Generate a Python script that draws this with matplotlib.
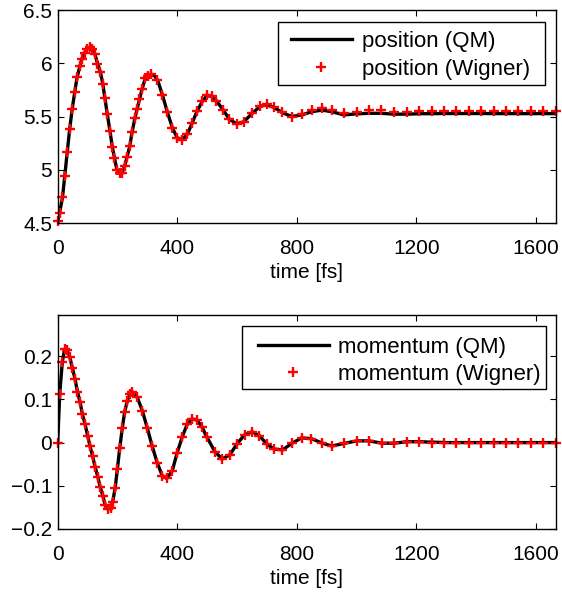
import matplotlib
matplotlib.use("Agg")
import matplotlib.pyplot as plt
from matplotlib.patches import Rectangle

plt.rcParams['font.family'] = ['Liberation Sans', 'DejaVu Sans']

# ---------------- data ----------------
# position, Wigner markers
t_pos_wig = [0, 7.7, 15.5, 24, 32.5, 40, 49, 57, 65, 74, 81, 90, 99, 108, 116,
             124, 133, 143, 151, 158, 166, 175, 183, 190, 198, 207, 215, 224,
             232, 241, 249, 258, 266, 273, 282, 291, 301, 313, 331, 350, 367,
             384, 400, 416, 434, 450, 467, 484, 499, 515, 530, 554, 574, 599,
             622, 651, 677, 700, 724, 752, 783, 817, 850, 884, 917, 958, 1001,
             1042, 1082, 1126, 1168, 1209, 1252, 1293, 1334, 1376, 1417, 1458,
             1500, 1541, 1583, 1625, 1667]
pos_wig = [4.52, 4.59, 4.74, 4.94, 5.17, 5.38, 5.57, 5.73, 5.87, 5.97, 6.04,
           6.10, 6.13, 6.15, 6.13, 6.09, 5.99, 5.915, 5.805, 5.67, 5.52, 5.36,
           5.21, 5.11, 5.00, 4.967, 4.97, 5.035, 5.117, 5.22, 5.354, 5.483,
           5.573, 5.66, 5.755, 5.86, 5.88, 5.90, 5.845, 5.705, 5.54, 5.39,
           5.30, 5.28, 5.34, 5.44, 5.555, 5.643, 5.70, 5.69, 5.65, 5.56, 5.474,
           5.43, 5.45, 5.53, 5.598, 5.615, 5.586, 5.54, 5.495, 5.52, 5.561,
           5.583, 5.561, 5.53, 5.545, 5.561, 5.561, 5.545, 5.545, 5.555, 5.555,
           5.552, 5.555, 5.555, 5.555, 5.555, 5.555, 5.555, 5.555, 5.555, 5.555]

# position, QM line
t_pos_qm = [0, 8, 16, 24, 32, 40, 48, 57, 65, 74, 82, 90, 99, 108, 116, 124,
            133, 143, 151, 158, 166, 175, 183, 190, 198, 207, 215, 224, 232,
            241, 249, 258, 266, 274, 282, 291, 301, 315, 325, 335, 350, 367,
            384, 400, 416, 434, 450, 467, 484, 499, 515, 530, 554, 574, 599,
            622, 651, 677, 700, 724, 752, 783, 817, 850, 884, 917, 958, 1001,
            1042, 1082, 1126, 1168, 1209, 1300, 1400, 1500, 1600, 1667]
pos_qm = [4.52, 4.62, 4.74, 4.95, 5.17, 5.38, 5.56, 5.73, 5.87, 5.97, 6.05,
          6.10, 6.135, 6.145, 6.13, 6.09, 6.00, 5.915, 5.805, 5.67, 5.52, 5.36,
          5.21, 5.11, 5.00, 4.965, 4.97, 5.035, 5.12, 5.22, 5.355, 5.48, 5.575,
          5.665, 5.755, 5.84, 5.875, 5.895, 5.88, 5.835, 5.705, 5.54, 5.39,
          5.30, 5.28, 5.335, 5.44, 5.555, 5.643, 5.695, 5.69, 5.65, 5.56,
          5.475, 5.43, 5.45, 5.53, 5.595, 5.61, 5.585, 5.535, 5.50, 5.515,
          5.545, 5.56, 5.545, 5.515, 5.525, 5.53, 5.53, 5.522, 5.522, 5.526,
          5.528, 5.528, 5.527, 5.527, 5.527]

# momentum, Wigner markers
t_mom_wig = [0, 6.7, 15.5, 23, 31, 40, 49, 58, 66, 75, 82.5, 91.5, 100, 108,
             117, 125, 134, 142, 151, 159, 167, 177, 184, 192, 199.5, 207.5,
             216, 224, 233, 241, 250, 266, 283, 300, 316, 333, 350, 365, 383,
             399, 417, 433, 450, 466, 482, 498, 526, 550, 576, 600, 625, 651,
             675, 700, 725, 752, 783, 816, 849, 884, 917, 957, 1001, 1042,
             1084, 1126, 1168, 1209, 1252, 1293, 1334, 1376, 1417, 1458, 1500,
             1541, 1583, 1625, 1667]
mom_wig = [0.0, 0.112, 0.187, 0.216, 0.215, 0.199, 0.173, 0.147, 0.118, 0.093,
           0.066, 0.043, 0.016, -0.008, -0.032, -0.056, -0.079, -0.1025,
           -0.123, -0.145, -0.154, -0.152, -0.137, -0.106, -0.062, -0.013,
           0.033, 0.071, 0.0965, 0.112, 0.117, 0.105, 0.074, 0.033, -0.008,
           -0.047, -0.077, -0.083, -0.066, -0.025, 0.014, 0.042, 0.055, 0.052,
           0.037, 0.014, -0.021, -0.038, -0.028, -0.003, 0.018, 0.025, 0.016,
           -0.004, -0.015, -0.017, -0.002, 0.011, 0.009, -0.001, -0.008,
           -0.002, 0.004, 0.004, -0.0014, -0.0014, 0.002, 0.002, 0.0, 0.0,
           0.0, 0.0, 0.0, 0.0, 0.0, 0.0, 0.0, 0.0, 0.0]

# momentum, QM line
t_mom_qm = [0, 6.7, 15.5, 23, 31, 40, 49, 58, 66, 75, 82.5, 91.5, 100, 108,
            117, 125, 134, 142, 151, 159, 167, 177, 184, 192, 199.5, 207.5,
            216, 224, 233, 241, 250, 266, 283, 300, 316, 333, 350, 365, 383,
            399, 417, 433, 450, 466, 482, 498, 526, 550, 576, 600, 625, 651,
            675, 700, 725, 752, 783, 816, 849, 884, 917, 957, 1001, 1042,
            1084, 1126, 1168, 1209, 1300, 1400, 1500, 1600, 1667]
mom_qm = [0.0, 0.112, 0.187, 0.216, 0.215, 0.199, 0.173, 0.147, 0.118, 0.093,
          0.066, 0.043, 0.016, -0.008, -0.032, -0.056, -0.079, -0.1025,
          -0.123, -0.145, -0.154, -0.152, -0.137, -0.106, -0.062, -0.013,
          0.033, 0.071, 0.0965, 0.112, 0.117, 0.105, 0.074, 0.033, -0.008,
          -0.047, -0.077, -0.083, -0.066, -0.025, 0.014, 0.042, 0.055, 0.052,
          0.037, 0.014, -0.021, -0.038, -0.028, -0.003, 0.018, 0.025, 0.016,
          -0.004, -0.015, -0.017, -0.002, 0.011, 0.009, -0.001, -0.008,
          -0.002, 0.004, 0.004, -0.0014, -0.0014, 0.002, 0.002, 0.0, 0.0,
          0.0, 0.0, 0.0]

x_ticks = [0, 400, 800, 1200, 1600]
pos_ticks = [4.5, 5, 5.5, 6, 6.5]
pos_tick_labels = ['4.5', '5', '5.5', '6', '6.5']
mom_ticks = [-0.2, -0.1, 0, 0.1, 0.2]
mom_tick_labels = ['\u22120.2', '\u22120.1', '0', '0.1', '0.2']
x_label = 'time [fs]'
pos_labels = ['position (QM)', 'position (Wigner)']
mom_labels = ['momentum (QM)', 'momentum (Wigner)']

assert len(t_pos_wig) == len(pos_wig)
assert len(t_pos_qm) == len(pos_qm)
assert len(t_mom_wig) == len(mom_wig)
assert len(t_mom_qm) == len(mom_qm)

# ---------------- drawing ----------------
W, H = 562, 592
fig = plt.figure(figsize=(W / 100, H / 100), dpi=100)
FS = 15
LFS = 16


def px_axes(left, top, right, bottom):
    return fig.add_axes([left / W, 1 - bottom / H, (right - left) / W, (bottom - top) / H])


def style(ax):
    for s in ax.spines.values():
        s.set_linewidth(1.0)
        s.set_color('black')
    ax.tick_params(direction='in', length=4, width=0.8, top=True, right=True,
                   labelsize=FS, colors='black')
    ax.tick_params(axis='x', pad=11.5)
    ax.tick_params(axis='y', pad=4)
    ax.set_xlim(0, 1667)
    ax.set_xticks(x_ticks)
    ax.set_xticklabels([str(v) for v in x_ticks])
    ax.set_xlabel(x_label, fontsize=FS, labelpad=3.5)


def legend(ax, handles, labels, box, content_left, content_top, hlen, hpad, lsp):
    # box: (left, top, right, bottom) of the frame in pixels
    left, top, right, bottom = box
    ax.add_patch(Rectangle((left / W, 1 - bottom / H), (right - left) / W,
                           (bottom - top) / H, transform=fig.transFigure,
                           facecolor='white', edgecolor='black', lw=1.0,
                           zorder=4.9, clip_on=False))
    leg = ax.legend(handles, labels, loc='upper left',
                    bbox_to_anchor=(content_left / W, 1 - content_top / H),
                    bbox_transform=fig.transFigure, borderaxespad=0,
                    fontsize=LFS, frameon=False, handlelength=hlen,
                    handletextpad=hpad, borderpad=0, labelspacing=lsp,
                    numpoints=1)
    leg.set_zorder(5)
    return leg


ax1 = px_axes(57.7, 10, 556, 223)
l1, = ax1.plot(t_pos_qm, pos_qm, color='black', lw=2.4, solid_joinstyle='round')
m1, = ax1.plot(t_pos_wig, pos_wig, linestyle='none', marker='+', color='red',
               ms=6.5, mew=1.7, clip_on=False)
ax1.set_ylim(4.5, 6.5)
ax1.set_yticks(pos_ticks)
ax1.set_yticklabels(pos_tick_labels)
style(ax1)
legend(ax1, [l1, m1], pos_labels, (278, 21.7, 545, 85), 290.7, 30.5,
       2.75, 0.45, 0.34)

ax2 = px_axes(57.7, 314.7, 556, 529)
l2, = ax2.plot(t_mom_qm, mom_qm, color='black', lw=2.4, solid_joinstyle='round')
m2, = ax2.plot(t_mom_wig, mom_wig, linestyle='none', marker='+', color='red',
               ms=6.5, mew=1.7, clip_on=False)
ax2.set_ylim(-0.2, 0.296)
ax2.set_yticks(mom_ticks)
ax2.set_yticklabels(mom_tick_labels)
style(ax2)
legend(ax2, [l2, m2], mom_labels, (242.3, 326, 545.7, 389.3), 257.7, 336.5,
       3.2, 0.4, 0.3)

fig.savefig('out.png', dpi=100, facecolor='white')
